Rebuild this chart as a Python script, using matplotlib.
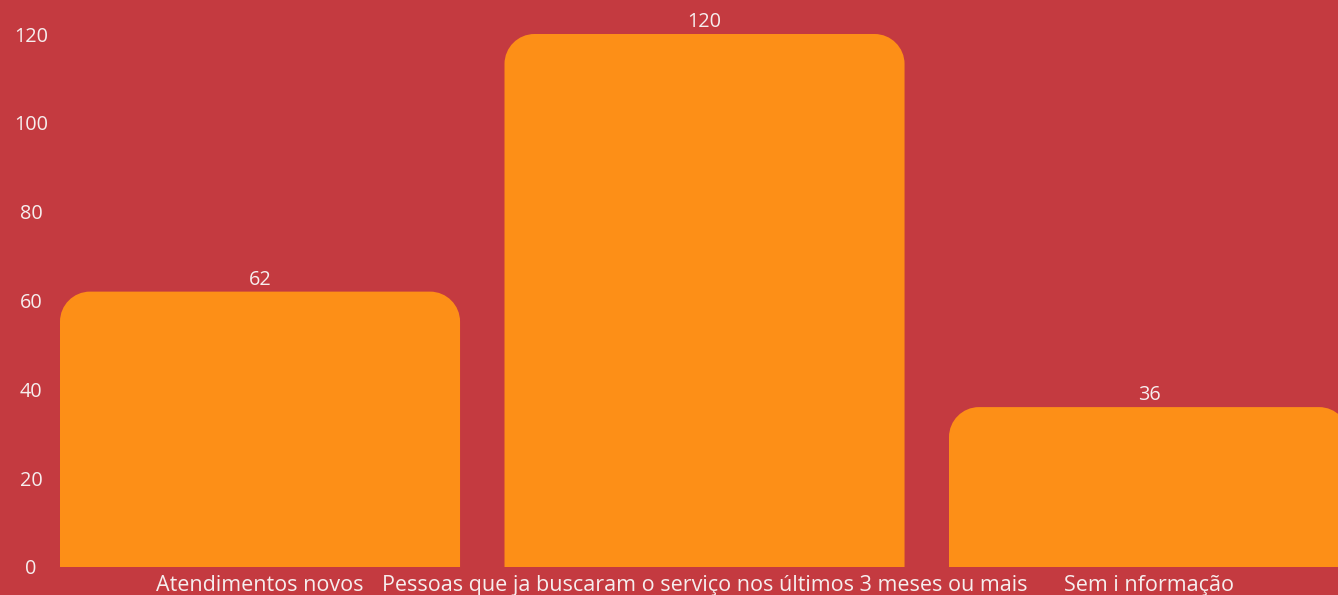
import matplotlib
matplotlib.use("Agg")
import matplotlib.pyplot as plt
from matplotlib.path import Path
from matplotlib.patches import PathPatch

categories = ["Atendimentos novos",
              "Pessoas que ja buscaram o serviço nos últimos 3 meses ou mais",
              "Sem i nformação"]
values = [62, 120, 36]
yticks = [0, 20, 40, 60, 80, 100, 120]

BG = "#C43A40"
BAR = "#FD8F17"
TXT = "#F6EEEE"
FONT = ["Open Sans", "DejaVu Sans"]

W, H, DPI = 1338, 595, 100
fig = plt.figure(figsize=(W / DPI, H / DPI), dpi=DPI)
fig.patch.set_facecolor(BG)

left_px, right_px, bottom_px, top_px = 60, 1338, 567, 34
ax = fig.add_axes([left_px / W, (H - bottom_px) / H,
                   (right_px - left_px) / W, (bottom_px - top_px) / H])
ax.set_facecolor(BG)
band_px = 444.5
x = list(range(len(categories)))
ax.set_xlim(-0.45, -0.45 + (right_px - left_px) / band_px)
ax.set_ylim(0, 120)

bars = ax.bar(x, values, width=0.9, color=BAR)

# rounded top corners
sx = band_px
sy = (bottom_px - top_px) / 120.0
r = 30
rx, ry = r / sx, r / sy
k = 0.5523
for rect in bars:
    x0, w, h = rect.get_x(), rect.get_width(), rect.get_height()
    rect.set_visible(False)
    x1, y1 = x0 + w, h
    verts = [(x0, 0), (x0, y1 - ry),
             (x0, y1 - ry + k * ry), (x0 + rx - k * rx, y1), (x0 + rx, y1),
             (x1 - rx, y1),
             (x1 - rx + k * rx, y1), (x1, y1 - ry + k * ry), (x1, y1 - ry),
             (x1, 0), (x0, 0)]
    codes = [Path.MOVETO, Path.LINETO,
             Path.CURVE4, Path.CURVE4, Path.CURVE4,
             Path.LINETO,
             Path.CURVE4, Path.CURVE4, Path.CURVE4,
             Path.LINETO, Path.CLOSEPOLY]
    ax.add_patch(PathPatch(Path(verts, codes), facecolor=BAR, edgecolor="none",
                           clip_on=False))
    ax.annotate(f"{h:g}", (x0 + w / 2, h), xytext=(0, 1.5), textcoords="offset points",
                ha="center", va="bottom", color=TXT, fontsize=14.3, family=FONT)

for s in ax.spines.values():
    s.set_visible(False)
ax.set_yticks(yticks)
ax.set_yticklabels([str(t) for t in yticks], family=FONT, fontsize=14.3, color=TXT)
ax.tick_params(axis="y", length=0, pad=29 * 72 / DPI)
for lbl in ax.get_yticklabels():
    lbl.set_horizontalalignment("center")
ax.set_xticks(x)
ax.set_xticklabels(categories, family=FONT, fontsize=15.5, color=TXT)
ax.tick_params(axis="x", length=0, pad=5.5)

fig.savefig("out.png", dpi=DPI, facecolor=BG)
